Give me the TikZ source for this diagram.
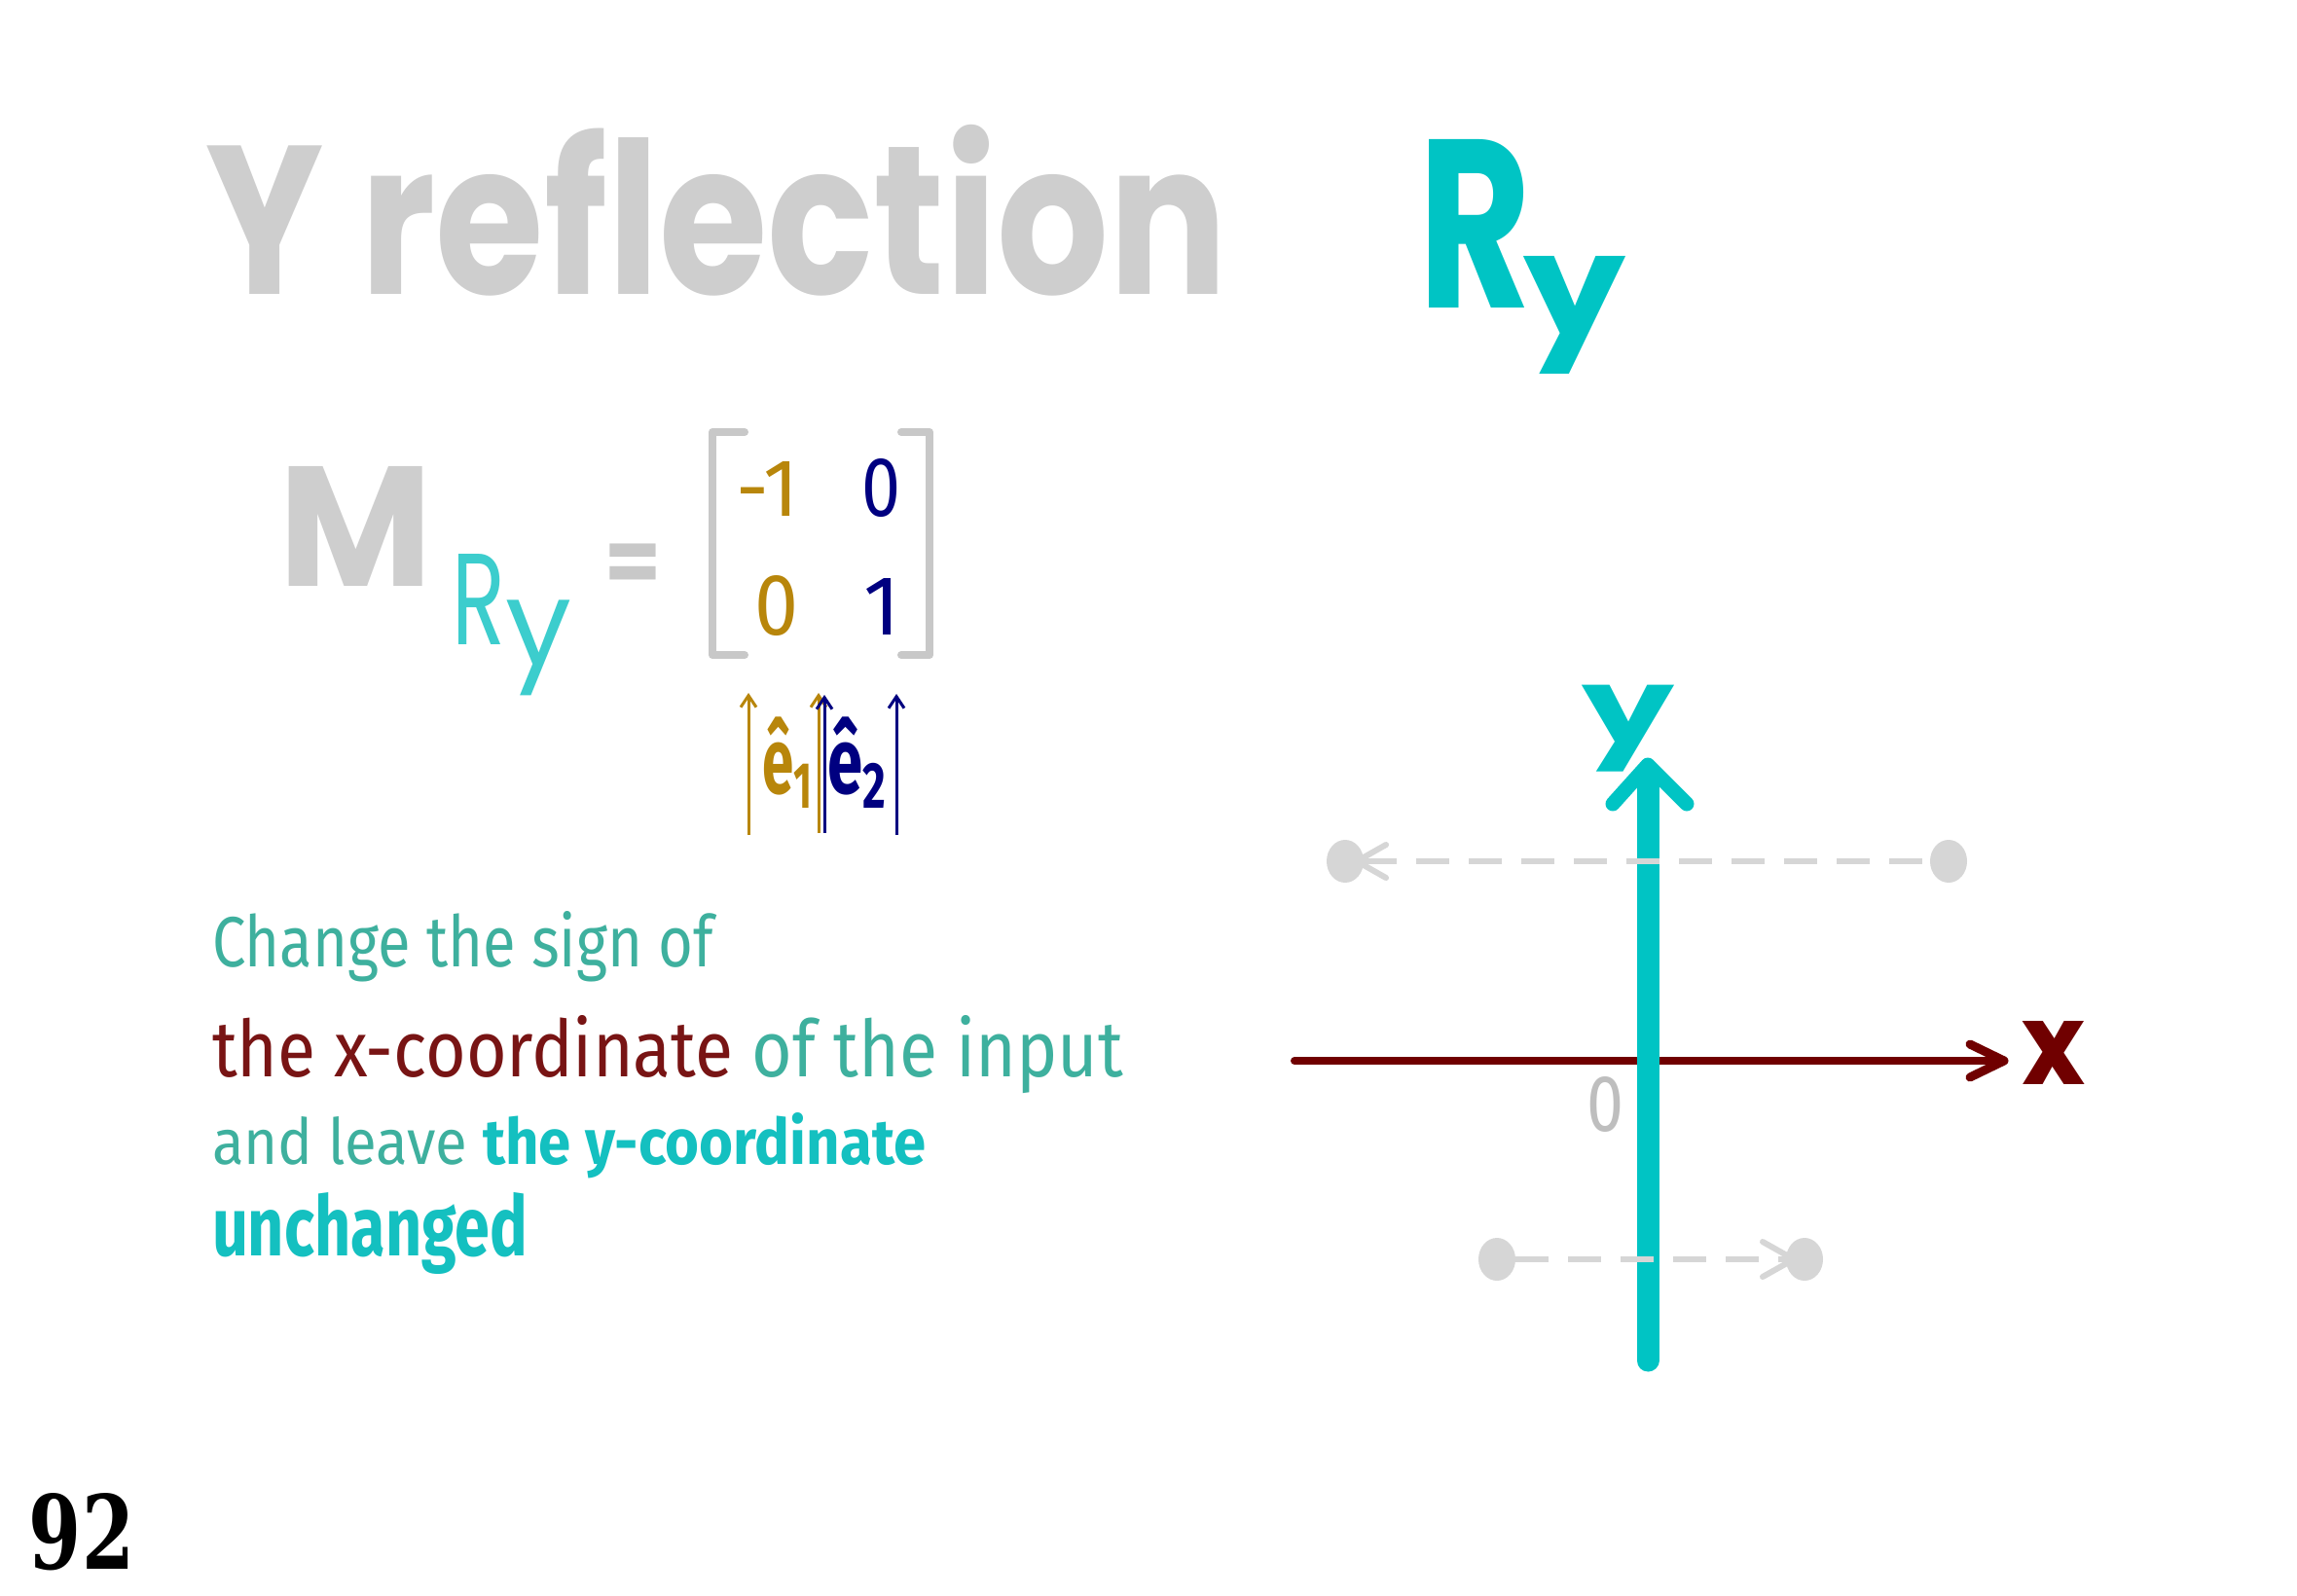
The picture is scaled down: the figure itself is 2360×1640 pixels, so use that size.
\documentclass[tikz,border=0pt]{standalone}
\usepackage{graphicx}
\usepackage{fontspec}
\setmainfont{Fira Sans}
\newfontfamily\ttlfont{Poppins}
\newfontfamily\pgfont{DejaVu Serif}
\usetikzlibrary{shapes.geometric,arrows.meta}
\definecolor{ttlgray}{RGB}{206,206,206}
\definecolor{tealR}{RGB}{0,196,196}
\definecolor{tealsub}{RGB}{60,205,205}
\definecolor{handteal}{RGB}{62,176,158}
\definecolor{xred}{RGB}{112,0,0}
\definecolor{txred}{RGB}{120,20,20}
\definecolor{cyanb}{RGB}{20,192,192}
\definecolor{brn}{RGB}{184,134,11}
\definecolor{nvy}{RGB}{0,0,128}
\definecolor{brgray}{RGB}{200,200,200}
\definecolor{dotgray}{RGB}{214,214,214}
\definecolor{zgray}{RGB}{190,190,190}
\newcommand{\szbox}[3]{\resizebox{#1pt}{#2pt}{#3}}
\begin{document}
\begin{tikzpicture}[x=1pt,y=-1pt,
  every node/.style={inner sep=0pt,outer sep=0pt},
  brk/.style={brgray,line width=8pt,line cap=round,line join=round},
  thinarrow/.style={line width=3pt,-{Straight Barb[length=12pt,width=16pt]}},
  dot/.style={ellipse,fill=dotgray,minimum width=38pt,minimum height=44pt},
  dsh/.style={dotgray,line width=6pt,dash pattern=on 34pt off 20pt},
  chev/.style={dotgray,line width=6pt,line cap=round,line join=round}]
\useasboundingbox (0,0) rectangle (2360,1640);
\fill[white] (0,0) rectangle (2360,1640);

% title
\node[anchor=base west,text=ttlgray] (title) at (211,302) {\szbox{1050}{174}{\ttlfont\bfseries Y reflection}};
\node[anchor=base west,text=tealR] (Rbig) at (1457,316) {\szbox{116}{173}{\ttlfont\bfseries R}};
\node[anchor=north west,text=tealR] (ybig) at (1565,263) {\resizebox*{105pt}{121pt}{\ttlfont\bfseries y}};

% M_Ry = matrix
\node[anchor=base west,text=ttlgray] (M) at (286,602) {\szbox{158}{123}{\ttlfont\bfseries M}};
\node[anchor=base west,text=tealsub] (MR) at (464,662) {\szbox{55}{93}{\ttlfont R}};
\node[anchor=north west,text=tealsub] (My) at (519,617) {\resizebox*{68pt}{98pt}{\ttlfont y}};
\node[anchor=base,text=brgray] (eq) at (651,614) {\resizebox{58pt}{!}{\bfseries =}};

\draw[brk] (765,444) -- (732,444) -- (732,673) -- (765,673);
\draw[brk] (926,444) -- (955,444) -- (955,673) -- (926,673);
\node[anchor=base,text=brn] (a11) at (789,530) {\resizebox{!}{56pt}{-1}};
\node[anchor=base,text=nvy] (a12) at (905,530) {\szbox{40}{59}{0}};
\node[anchor=base,text=brn] (a21) at (798,652) {\szbox{45}{61}{0}};
\node[anchor=base,text=nvy] (a22) at (906,652) {\resizebox{!}{58pt}{1}};

\coordinate (b1s) at (769,858); \coordinate (b1e) at (769,712);
\coordinate (b2s) at (841,856); \coordinate (b2e) at (841,712);
\coordinate (n1s) at (847,856); \coordinate (n1e) at (847,714);
\coordinate (n2s) at (921,858); \coordinate (n2e) at (921,713);
\draw[thinarrow,brn] (b1s) -- (b1e);
\draw[thinarrow,brn] (b2s) -- (b2e);
\draw[thinarrow,nvy] (n1s) -- (n1e);
\draw[thinarrow,nvy] (n2s) -- (n2e);
\node[anchor=north west,text=brn] (e1) at (783,737) {\resizebox*{54pt}{93pt}{\bfseries ê\textsubscript{1}}};
\node[anchor=north west,text=nvy] (e2) at (850,737) {\resizebox*{63pt}{93pt}{\bfseries ê\textsubscript{2}}};

% text lines
\node[anchor=base west] (l1) at (218,993) {\szbox{515}{57}{\textcolor{handteal}{Change the sign of}}};
\node[anchor=base west] (l2) at (218,1106) {\szbox{936}{63}{\textcolor{txred}{the x-coordinate} \textcolor{handteal}{of the input}}};
\node[anchor=base west] (l3) at (218,1196) {\szbox{733}{53}{\textcolor{handteal}{and leave} \textcolor{cyanb}{\bfseries the y-coordinate}}};
\node[anchor=base west] (l4) at (218,1290) {\szbox{324}{65}{\textcolor{cyanb}{\bfseries unchanged}}};

% axes
\coordinate (xl) at (1330,1090); \coordinate (xr) at (2059,1090);
\coordinate (yb) at (1693,1398); \coordinate (yt) at (1693,786);
\draw[xred,line width=8pt,line cap=round] (xl) -- (xr);
\draw[xred,line width=9pt,line cap=round,line join=round] (xr) ++(-35,-17) -- (xr) -- ++(-35,17);
\draw[tealR,line width=23pt,line cap=round] (yb) -- ([yshift=-10pt]yt);
\draw[tealR,line width=15pt,line cap=round,line join=round] (yt) ++(-36,40) -- (yt) -- ++(40,40);
\node[anchor=north west,text=tealR] (ylab) at (1625,704) {\resizebox*{95pt}{89pt}{\ttlfont\bfseries y}};
\node[anchor=base west,text=xred] (xlab) at (2077,1114) {\szbox{65}{65}{\ttlfont\bfseries x}};
\node[anchor=base west,text=zgray] (zero) at (1630,1162) {\szbox{38}{56}{0}};

% reflected points
\node[dot] (p1) at (1382,885) {};
\node[dot] (p1r) at (2002,885) {};
\node[dot] (p2) at (1538,1294) {};
\node[dot] (p2r) at (1854,1294) {};
\draw[dsh] (p1) -- (p1r);
\draw[dsh] (p2) -- (p2r);
\coordinate (c1) at (1394,885);
\coordinate (c2) at (1843,1294);
\draw[chev] (c1) ++(30,-17) -- (c1) -- ++(30,17);
\draw[chev] (c2) ++(-32,-18) -- (c2) -- ++(-32,18);

% page number
\node[anchor=base west] (pg) at (30,1612) {\szbox{108}{78}{\pgfont\bfseries 92}};
\end{tikzpicture}
\end{document}
